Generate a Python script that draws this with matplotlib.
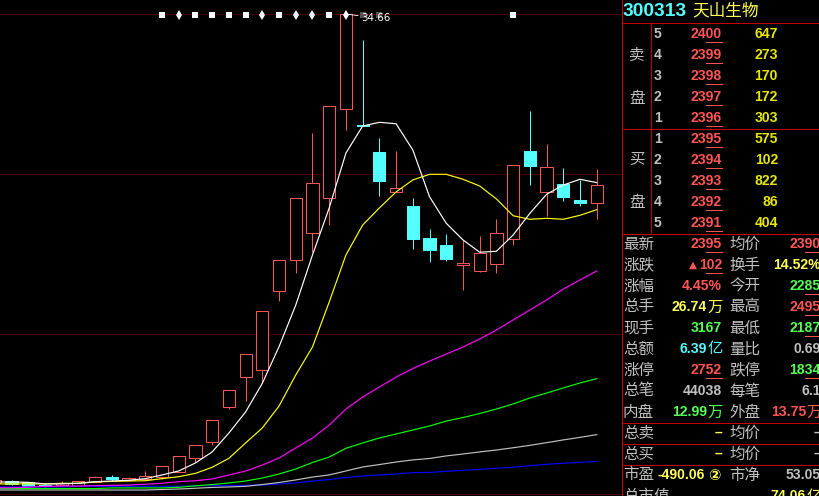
"""
  Stock K-line chart with the quote panel on the right side.
"""

import numpy as np
from matplotlib import pyplot as plt

# daily candles
OPENS = [5.35, 5.45, 5.39, 5.23, 5.24, 5.18, 5.43, 5.72, 5.51, 5.58, 5.72, 6.05, 6.93,
         7.93, 10.12, 11.95, 12.41, 17.33, 19.29, 20.97, 23.18, 28.70, 27.70, 26.04,
         23.52, 22.66, 20.66, 20.22, 19.00, 18.62, 19.05, 20.58, 26.10, 23.52, 24.04,
         23.04, 22.83]
CLOSES = [5.54, 5.28, 5.16, 5.16, 5.33, 5.45, 5.70, 5.60, 5.64, 5.77, 6.39, 7.02, 7.70,
          9.27, 11.14, 13.39, 16.08, 19.27, 23.16, 24.08, 28.89, 34.64, 27.66, 24.24,
          23.77, 20.62, 19.93, 19.37, 19.10, 19.70, 20.95, 25.20, 25.18, 25.08, 23.24,
          22.87, 23.95]
HIGHS = [5.54, 5.54, 5.39, 5.33, 5.47, 5.45, 5.77, 5.85, 5.72, 6.10, 6.39, 7.02, 7.70,
         9.27, 11.14, 13.39, 16.08, 19.27, 23.16, 27.20, 28.89, 34.66, 33.04, 26.91,
         26.10, 23.16, 21.22, 20.91, 20.54, 20.79, 21.85, 25.20, 28.60, 26.54, 25.04,
         24.29, 24.97]
LOWS = [5.35, 5.23, 5.16, 5.12, 5.16, 5.18, 5.43, 5.47, 5.51, 5.58, 5.58, 6.05, 6.68,
        7.72, 9.99, 10.49, 11.58, 16.74, 18.49, 19.79, 21.47, 27.43, 27.66, 23.30,
        23.52, 19.99, 19.18, 19.24, 17.43, 18.55, 18.49, 20.24, 23.99, 22.05, 22.99,
        22.68, 21.87]

# moving averages
MA_WHITE = [5.41, 5.41, 5.39, 5.29, 5.29, 5.33, 5.43, 5.47, 5.52, 5.62, 5.85, 6.10, 6.60,
            7.29, 8.47, 9.79, 11.58, 13.87, 16.47, 19.60, 22.54, 25.97, 27.66, 27.89,
            27.80, 26.16, 23.24, 21.58, 20.54, 19.77, 19.83, 20.85, 22.20, 23.39, 23.97,
            24.33, 24.12]
MA_YELLOW = [5.29, 5.29, 5.29, 5.29, 5.33, 5.33, 5.41, 5.45, 5.47, 5.49, 5.62, 5.74, 5.95,
             6.33, 6.89, 7.85, 8.79, 10.16, 12.10, 13.85, 16.66, 19.60, 21.47, 22.54,
             23.54, 24.29, 24.64, 24.64, 24.33, 23.91, 23.10, 22.05, 21.83, 21.89, 21.83,
             22.08, 22.43]
MA_MAGENTA = [5.05, 5.05, 5.08, 5.14, 5.16, 5.16, 5.18, 5.20, 5.22, 5.27, 5.33, 5.43, 5.49,
              5.60, 5.85, 6.10, 6.47, 6.91, 7.54, 8.16, 8.97, 9.97, 10.72, 11.35,
              11.97, 12.50, 12.97, 13.41, 13.85, 14.35, 14.91, 15.54, 16.16, 16.79, 17.47,
              18.04, 18.60]
MA_GREEN = [5.00, 5.00, 5.00, 5.00, 5.00, 5.00, 5.00, 5.04, 5.04, 5.04, 5.04, 5.08, 5.17,
            5.25, 5.35, 5.47, 5.66, 5.91, 6.22, 6.63, 6.97, 7.52, 7.85, 8.16,
            8.41, 8.66, 8.91, 9.22, 9.44, 9.69, 9.97, 10.29, 10.66, 10.97, 11.29,
            11.60, 11.87]
MA_GREY = [4.91, 4.91, 4.91, 4.91, 4.91, 4.91, 4.91, 4.91, 4.91, 4.91, 4.94, 4.97, 5.02,
           5.07, 5.10, 5.14, 5.25, 5.38, 5.54, 5.72, 5.85, 6.10, 6.35, 6.50,
           6.66, 6.79, 6.88, 7.04, 7.16, 7.29, 7.41, 7.55, 7.70, 7.87, 8.04,
           8.20, 8.37]
MA_BLUE = [5.10, 5.10, 5.10, 5.10, 5.10, 5.14, 5.14, 5.14, 5.14, 5.14, 5.14, 5.14, 5.18,
           5.18, 5.19, 5.20, 5.22, 5.29, 5.35, 5.47, 5.57, 5.69, 5.79, 5.85,
           5.91, 6.00, 6.01, 6.08, 6.14, 6.20, 6.27, 6.33, 6.43, 6.52, 6.58,
           6.64, 6.70]

GRID_PRICES = [34.69, 24.66, 14.66, 4.66]
FLAG_PRICE = 34.58
FLAGS_WIDE = [10, 12, 13, 14, 15, 17, 20, 31]
FLAGS_THIN = [11, 16, 18, 19, 21]
FLAGS_DIM = [22, 23]

# quote panel
ASK_LEVELS = ["5", "4", "3", "2", "1"]
ASK_PRICES = ["2400", "2399", "2398", "2397", "2396"]
ASK_VOLS = ["647", "273", "170", "172", "303"]
BID_LEVELS = ["1", "2", "3", "4", "5"]
BID_PRICES = ["2395", "2394", "2393", "2392", "2391"]
BID_VOLS = ["575", "102", "822", "86", "404"]

RED = "#ff5555"
CYAN = "#54ffff"
GREEN = "#55ff55"
YELLOW = "#ffff55"
GREY = "#c0c0c0"
LINE_RED = "#c80000"
PX = 0.72

# label, value, colour, suffix, underline
LEFT_STATS = [
    ("最新", "2395", RED, "", True),
    ("涨跌", "102", RED, "", True),
    ("涨幅", "4.45%", RED, "", False),
    ("总手", "26.74", YELLOW, "万", False),
    ("现手", "3167", GREEN, "", False),
    ("总额", "6.39", CYAN, "亿", False),
    ("涨停", "2752", RED, "", True),
    ("总笔", "44038", GREY, "", False),
    ("内盘", "12.99", GREEN, "万", False),
    ("总卖", "–", YELLOW, "", False),
    ("总买", "–", YELLOW, "", False),
    ("市盈", "-490.06", YELLOW, "", False),
    ("总市值", "", YELLOW, "", False),
]
RIGHT_STATS = [
    ("均价", "2390", RED, "", True),
    ("换手", "14.52%", YELLOW, "", False),
    ("今开", "2285", GREEN, "", True),
    ("最高", "2495", RED, "", True),
    ("最低", "2187", GREEN, "", True),
    ("量比", "0.69", GREY, "", False),
    ("跌停", "1834", GREEN, "", True),
    ("每笔", "6.1", GREY, "", False),
    ("外盘", "13.75", RED, "万", False),
    ("均价", "–", GREY, "", False),
    ("均价", "–", GREY, "", False),
    ("市净", "53.05", GREY, "", False),
    ("", "74.06", YELLOW, "亿", False),
]

CJK = "Noto Sans CJK SC"
NUM = "Liberation Sans"
STAT_ROWS = [244, 265, 286, 307, 328, 349, 370, 391, 412, 433, 454, 475, 496]


def draw_candles(ax):
    """
        Candles, moving averages and the flag row
    """
    x_pos = np.arange(len(OPENS))
    opens, closes = np.array(OPENS), np.array(CLOSES)
    colors = [RED if c >= o else CYAN for o, c in zip(opens, closes)]
    faces = ["black" if c >= o else CYAN for o, c in zip(opens, closes)]

    for price in GRID_PRICES:
        ax.axhline(price, color="#4a0000", lw=PX, zorder=1)

    ax.vlines(x_pos, LOWS, HIGHS, colors=colors, lw=PX, zorder=2)
    ax.bar(x_pos, closes - opens, bottom=opens, width=0.73, color=faces,
           edgecolor=colors, linewidth=PX, zorder=3)

    # non antialiased lines come out 2px wide, so keep these smooth and thin
    for vals, col in [(MA_BLUE, "#0000ff"), (MA_GREY, GREY), (MA_GREEN, "#00ff00"),
                      (MA_MAGENTA, "#ff00ff"), (MA_YELLOW, "#ffff00"),
                      (MA_WHITE, "#ffffff")]:
        ax.plot(x_pos, vals, color=col, lw=0.85, zorder=4)

    ax.plot(FLAGS_WIDE, [FLAG_PRICE] * len(FLAGS_WIDE), ls="", marker="s", ms=4.6,
            color="white", mew=0, zorder=5, antialiased=False)
    ax.plot(FLAGS_THIN, [FLAG_PRICE] * len(FLAGS_THIN), ls="", marker="d", ms=5,
            color="white", mew=0, zorder=5, antialiased=False)
    ax.plot(FLAGS_DIM, [FLAG_PRICE] * len(FLAGS_DIM), ls="", marker="s", ms=4.6,
            color="#555555", mew=0, zorder=5, antialiased=False)

    top = int(np.argmax(HIGHS))
    ax.annotate("34.66", xy=(x_pos[top], HIGHS[top]), xytext=(15, -4),
                textcoords="offset pixels", color="white", fontsize=7.4,
                family="DejaVu Sans", va="center", ha="left", zorder=6,
                arrowprops={"arrowstyle": "-", "color": "white", "lw": 0.6,
                            "shrinkA": 0, "shrinkB": 0})

    ax.set_xlim(0.312, 37.39)
    ax.set_ylim(4.535, 35.535)
    ax.axis("off")


def underline(ax, right, row):
    ax.plot([right - 16, right], [row + 7.5, row + 7.5], color=RED, lw=PX)


def draw_number(ax, right, row, value, color, suffix="", under=False):
    """
        Right aligned number, optional CJK unit behind it
    """
    end = right
    if suffix:
        ax.text(right + 0.5, row, suffix, color=color, family=CJK, fontsize=11,
                ha="right", va="center", clip_on=True)
        end = right - 15
    ax.text(end, row, value, color=color, family=NUM, weight="bold", fontsize=10.1,
            ha="right", va="center", clip_on=True)
    if under:
        underline(ax, right, row)


def draw_book(ax, levels, prices, vols, rows):
    for level, price, vol, row in zip(levels, prices, vols, rows):
        ax.text(654, row, level, color=GREY, family=NUM, weight="bold", fontsize=10.1,
                ha="left", va="center")
        draw_number(ax, 722, row, price, RED, under=True)
        draw_number(ax, 778, row, vol, "#e6e600")


def draw_panel(ax):
    """
        Everything to the right of the chart, in pixel coordinates
    """
    ax.set_xlim(0, 820)
    ax.set_ylim(496, 0)
    ax.axis("off")
    ax.patch.set_alpha(0)

    ax.vlines(622.5, 0, 496, colors=LINE_RED, lw=PX)
    ax.vlines(651.5, 22, 233, colors=LINE_RED, lw=PX)
    ax.hlines([22.5, 128.5, 233.5, 422.5, 443.5, 464.5], 622, 820, colors=LINE_RED,
              lw=PX)

    ax.text(623, 11, "300313", color=CYAN, family=NUM, weight="bold", fontsize=13.8,
            ha="left", va="center")
    ax.text(692, 11, "天山生物", color=YELLOW, family=CJK, fontsize=12, ha="left",
            va="center")

    for text, row in [("卖", 55), ("盘", 98), ("买", 160), ("盘", 202)]:
        ax.text(637, row, text, color=GREY, family=CJK, fontsize=11.2, ha="center",
                va="center")

    draw_book(ax, ASK_LEVELS, ASK_PRICES, ASK_VOLS, [34, 55, 76, 97, 118])
    draw_book(ax, BID_LEVELS, BID_PRICES, BID_VOLS, [139, 160, 181, 202, 223])

    for stat, row in zip(LEFT_STATS, STAT_ROWS):
        label, value, color, suffix, under = stat
        ax.text(623, row, label, color=GREY, family=CJK, fontsize=11.2, ha="left",
                va="center", clip_on=True)
        if label == "市盈":
            draw_number(ax, 705, row, value, color)
            ax.text(714, row, "②", color=color, family="DejaVu Sans", weight="bold",
                    fontsize=10.5, ha="center", va="center")
        elif value:
            draw_number(ax, 722, row, value, color, suffix, under)

    ax.text(689, STAT_ROWS[1], "▲", color=RED, family="DejaVu Sans", fontsize=7.5,
            ha="left", va="center")

    for stat, row in zip(RIGHT_STATS, STAT_ROWS):
        label, value, color, suffix, under = stat
        if label:
            ax.text(729, row, label, color=GREY, family=CJK, fontsize=11.2, ha="left",
                    va="center")
        draw_number(ax, 821, row, value, color, suffix, under)


def build_graphic():
    fig = plt.figure(figsize=(8.2, 4.96), dpi=100, facecolor="black")
    chart = fig.add_axes([0, 0, 620 / 820, 1], facecolor="black")
    panel = fig.add_axes([0, 0, 1, 1])
    draw_candles(chart)
    draw_panel(panel)
    fig.savefig("out.png", dpi=100, facecolor="black")


build_graphic()
